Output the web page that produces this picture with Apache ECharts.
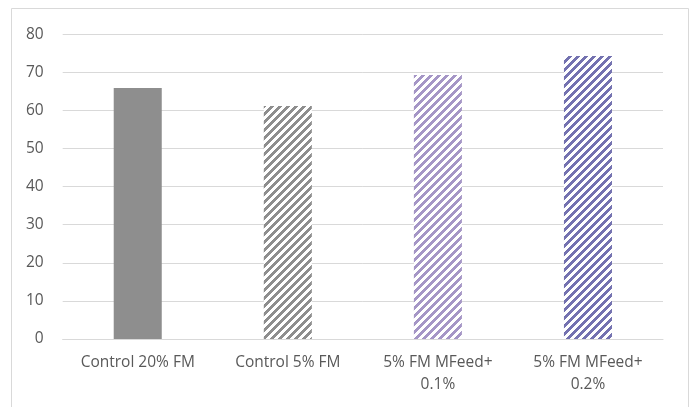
<!DOCTYPE html>
<html>
<head>
<meta charset="utf-8">
<script src="https://cdn.jsdelivr.net/npm/echarts@6/dist/echarts.min.js"></script>
<style>
  html, body { margin: 0; padding: 0; background: #fff; }
  #chart { width: 696px; height: 407px; }
</style>
</head>
<body>
<div id="chart"></div>
<script>
// Treatment groups and their measured values
const categories = ['Control 20% FM', 'Control 5% FM', '5% FM MFeed+\n0.1%', '5% FM MFeed+\n0.2%'];
const values = [65.9, 61.2, 69.3, 74.3];
const yTicks = [0, 10, 20, 30, 40, 50, 60, 70, 80];

// Wide upward-diagonal hatch tile (8x8 pixels)
function hatch(color) {
  const c = document.createElement('canvas');
  c.width = 8; c.height = 8;
  const ctx = c.getContext('2d');
  ctx.fillStyle = '#ffffff';
  ctx.fillRect(0, 0, 8, 8);
  ctx.fillStyle = color;
  for (let y = 0; y < 8; y++) {
    for (let x = 0; x < 8; x++) {
      if ((x + y) % 8 < 4) ctx.fillRect(x, y, 1, 1);
    }
  }
  return { image: c, repeat: 'repeat' };
}

const barFills = ['#8e8e8e', hatch('#8e8e8e'), hatch('#a596c6'), hatch('#7472b0')];

const chart = echarts.init(document.getElementById('chart'), null, { renderer: 'canvas' });
chart.setOption({
  animation: false,
  backgroundColor: '#ffffff',
  textStyle: { fontFamily: 'Open Sans', color: '#595959' },
  graphic: [{
    type: 'rect',
    shape: { x: 11.5, y: 8.5, width: 677, height: 420 },
    style: { fill: 'none', stroke: '#d9d9d9', lineWidth: 1 },
    silent: true
  }],
  grid: { left: 62.7, right: 33, top: 34.3, bottom: 68 },
  xAxis: {
    type: 'category',
    data: categories,
    axisLine: { show: true, lineStyle: { color: '#d9d9d9', width: 1 } },
    axisTick: { show: false },
    axisLabel: { color: '#595959', fontFamily: 'Open Sans', fontSize: 15.5, margin: 13, lineHeight: 22, interval: 0 }
  },
  yAxis: {
    type: 'value',
    min: yTicks[0],
    max: yTicks[yTicks.length - 1],
    interval: 10,
    axisLine: { show: false },
    axisTick: { show: false },
    splitLine: { lineStyle: { color: '#d9d9d9', width: 1 } },
    axisLabel: { color: '#595959', fontFamily: 'Open Sans', fontSize: 15.5, margin: 19 }
  },
  series: [{
    type: 'bar',
    barWidth: '32%',
    data: values.map((v, i) => ({ value: v, itemStyle: { color: barFills[i] } }))
  }]
});
</script>
</body>
</html>
